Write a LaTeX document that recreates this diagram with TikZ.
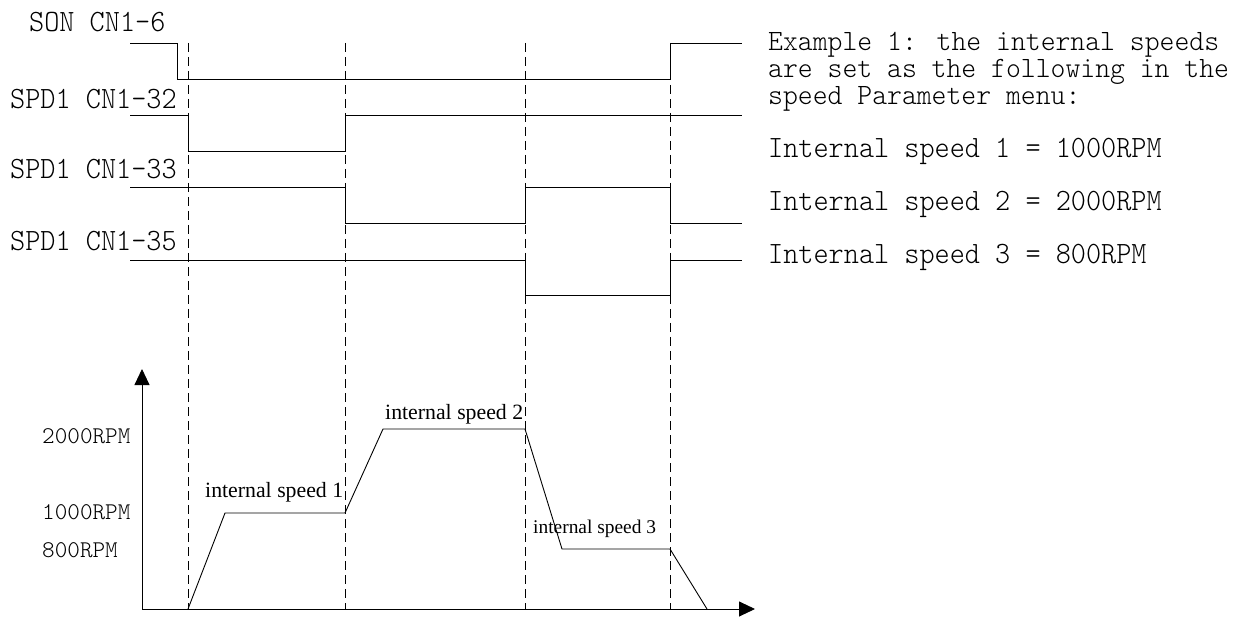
\documentclass[tikz,border=0pt]{standalone}
\usepackage{fontspec}
\newfontfamily\serifrm{Liberation Serif}
\usetikzlibrary{arrows.meta}
\begin{document}
\begin{tikzpicture}[x=1pt,y=-1pt,
  wave/.style={line width=0.9pt, line join=miter},
  guide/.style={line width=0.8pt, dash pattern=on 9pt off 5pt},
  axis/.style={line width=0.9pt, -{Triangle[length=16pt,width=15pt]}},
  monotext/.style={inner sep=0pt, anchor=base west, xscale=0.93,
              font=\ttfamily\fontseries{l}\fontsize{31}{27}\selectfont},
  sig/.style={monotext},
  note/.style={monotext, text height=18pt, text depth=5pt},
  tightnote/.style={note, xscale=0.96/0.93,
              font=\ttfamily\fontseries{l}\fontsize{29.5}{27}\selectfont},
  rpm/.style={inner sep=0pt, anchor=base west,
              font=\ttfamily\fontseries{l}\fontsize{24}{24}\selectfont},
  spd/.style={inner sep=0pt, anchor=base west,
              font=\serifrm\fontsize{21.8}{22}\selectfont}]
\useasboundingbox (0,0) rectangle (1247,617);

% signal names
\node[sig] (son)  at (29,32)  {SON CN1-6};
\node[sig] (s32)  at (10,109) {SPD1 CN1-32};
\node[sig] (s33)  at (10,179) {SPD1 CN1-33};
\node[sig] (s35)  at (10,251) {SPD1 CN1-35};

% input waveforms
\draw[wave] (130,43) -- (177,43) -- (177,79) -- (670,79) -- (670,43) -- (742,43);
\draw[wave] (130,115) -- (188,115) -- (188,151) -- (345,151) -- (345,115) -- (742,115);
\draw[wave] (130,187) -- (345,187) -- (345,223) -- (525,223) -- (525,187)
            -- (670,187) -- (670,223) -- (742,223);
\draw[wave] (130,260) -- (525,260) -- (525,295) -- (670,295) -- (670,260) -- (742,260);

% switching instants
\foreach \t in {188,345,525,670}
  \draw[guide] (\t,43) -- (\t,609);

% speed axes
\coordinate (o) at (142,609);
\coordinate (ytip) at (142,369);
\coordinate (xtip) at (755,609);
\draw[axis] (o) -- (ytip);
\draw[axis] (o) -- (xtip);

% speed profile
\draw[wave] (188,609) -- (225,513) -- (345,513) -- (383,429) -- (525,429)
            -- (562,549) -- (670,549) -- (707,609);

% speed levels
\node[rpm] (r2000) at (42,443) {2000RPM};
\node[rpm] (r1000) at (42,519) {1000RPM};
\node[rpm] (r800)  at (42,557) {800RPM};

% segment labels
\node[spd] (is1) at (205,497) {internal speed 1};
\node[spd] (is2) at (385,419) {internal speed 2};
\node[spd, font=\serifrm\fontsize{19.4}{20}\selectfont] (is3) at (533,533) {internal speed 3};

% parameter notes
\node[tightnote] (n1) at (768,51)  {Example 1: the internal speeds};
\node[tightnote] (n2) at (768,78)  {are set as the following in the};
\node[tightnote] (n3) at (768,105) {speed Parameter menu:};
\node[note] (p1) at (768,158) {Internal speed 1 = 1000RPM};
\node[note] (p2) at (768,211) {Internal speed 2 = 2000RPM};
\node[note] (p3) at (768,264) {Internal speed 3 = 800RPM};
\end{tikzpicture}
\end{document}
